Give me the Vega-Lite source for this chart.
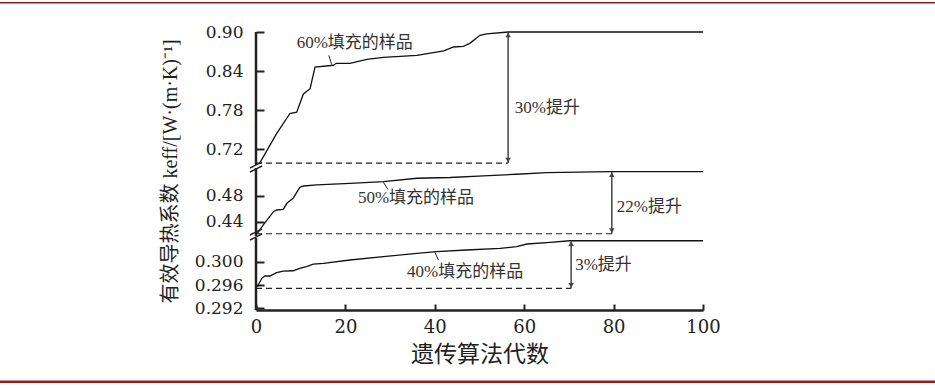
{
  "$schema": "https://vega.github.io/schema/vega-lite/v6.json",
  "width": 447,
  "height": 278,
  "autosize": {"type": "none"},
  "padding": {"left": 256, "top": 32, "right": 232, "bottom": 78},
  "background": "white",
  "config": {"view": {"stroke": null}, "font": "DejaVu Serif"},
  "datasets": {
    "curves": [
      {"s": "60", "x": 0.8, "y": 0.699}, {"s": "60", "x": 1.6, "y": 0.708}, {"s": "60", "x": 4.6, "y": 0.744}, {"s": "60", "x": 7.6, "y": 0.775}, {"s": "60", "x": 9.1, "y": 0.777}, {"s": "60", "x": 10.6, "y": 0.805}, {"s": "60", "x": 12.1, "y": 0.813}, {"s": "60", "x": 13.2, "y": 0.846}, {"s": "60", "x": 17.3, "y": 0.849}, {"s": "60", "x": 18.0, "y": 0.852}, {"s": "60", "x": 21.0, "y": 0.852}, {"s": "60", "x": 24.8, "y": 0.858}, {"s": "60", "x": 28.5, "y": 0.861}, {"s": "60", "x": 36, "y": 0.864}, {"s": "60", "x": 42, "y": 0.871}, {"s": "60", "x": 44.2, "y": 0.877}, {"s": "60", "x": 46.4, "y": 0.878}, {"s": "60", "x": 47.9, "y": 0.883}, {"s": "60", "x": 50.1, "y": 0.895}, {"s": "60", "x": 51.6, "y": 0.897}, {"s": "60", "x": 56.4, "y": 0.9}, {"s": "60", "x": 100, "y": 0.9},
      {"s": "50", "x": 0.3, "y": 0.4222}, {"s": "50", "x": 1.6, "y": 0.4349}, {"s": "50", "x": 3.9, "y": 0.4554}, {"s": "50", "x": 4.6, "y": 0.458}, {"s": "50", "x": 6.1, "y": 0.459}, {"s": "50", "x": 6.9, "y": 0.4683}, {"s": "50", "x": 8.3, "y": 0.476}, {"s": "50", "x": 9.8, "y": 0.4929}, {"s": "50", "x": 10.6, "y": 0.4949}, {"s": "50", "x": 13.6, "y": 0.4965}, {"s": "50", "x": 21, "y": 0.4991}, {"s": "50", "x": 28.5, "y": 0.5015}, {"s": "50", "x": 36, "y": 0.5068}, {"s": "50", "x": 43.4, "y": 0.508}, {"s": "50", "x": 50.9, "y": 0.5105}, {"s": "50", "x": 58.3, "y": 0.513}, {"s": "50", "x": 65, "y": 0.5155}, {"s": "50", "x": 79.2, "y": 0.5169}, {"s": "50", "x": 100, "y": 0.5169},
      {"s": "40", "x": 0.3, "y": 0.29571}, {"s": "40", "x": 1.3, "y": 0.29715}, {"s": "40", "x": 2, "y": 0.29755}, {"s": "40", "x": 3.1, "y": 0.29755}, {"s": "40", "x": 4.6, "y": 0.29811}, {"s": "40", "x": 6.1, "y": 0.2984}, {"s": "40", "x": 8.3, "y": 0.29845}, {"s": "40", "x": 9.8, "y": 0.29887}, {"s": "40", "x": 11.3, "y": 0.29914}, {"s": "40", "x": 12.8, "y": 0.2996}, {"s": "40", "x": 15.1, "y": 0.29973}, {"s": "40", "x": 21, "y": 0.30029}, {"s": "40", "x": 28.5, "y": 0.30086}, {"s": "40", "x": 36, "y": 0.30144}, {"s": "40", "x": 40.4, "y": 0.30172}, {"s": "40", "x": 47.1, "y": 0.30201}, {"s": "40", "x": 54.6, "y": 0.3023}, {"s": "40", "x": 58.3, "y": 0.30258}, {"s": "40", "x": 60.6, "y": 0.30304}, {"s": "40", "x": 65.8, "y": 0.30331}, {"s": "40", "x": 70.2, "y": 0.3036}, {"s": "40", "x": 100, "y": 0.3036}
    ],
    "dashed": [
      {"s": "60", "x": 0, "y": 0.699}, {"s": "60", "x": 56.4, "y": 0.699},
      {"s": "50", "x": 0, "y": 0.4215}, {"s": "50", "x": 79.6, "y": 0.4215},
      {"s": "40", "x": 0, "y": 0.29543}, {"s": "40", "x": 70.5, "y": 0.29543}
    ],
    "arrows": [
      {"x": 56.4, "y": 0.699, "y2": 0.9},
      {"x": 79.6, "y": 0.4215, "y2": 0.5169},
      {"x": 70.5, "y": 0.29543, "y2": 0.3036}
    ],
    "axisSeg": [
      {"x": 0, "y": 0.29171, "y2": 0.30407},
      {"x": 0, "y": 0.418, "y2": 0.5226},
      {"x": 0, "y": 0.696, "y2": 0.9}
    ],
    "slashes": [
      {"x": -1.34, "x2": 1.34, "y": 0.5226, "y2": 0.7005},
      {"x": -1.34, "x2": 1.34, "y": 0.5164, "y2": 0.6382},
      {"x": -1.34, "x2": 1.34, "y": 0.41954, "y2": 0.42877},
      {"x": -1.34, "x2": 1.34, "y": 0.30373, "y2": 0.42108}
    ],
    "leaders": [
      {"x": 16.3, "x2": 16.9, "y": 0.8642, "y2": 0.8505},
      {"x": 28.5, "x2": 29.5, "y": 0.5006, "y2": 0.4898},
      {"x": 40.0, "x2": 40.8, "y": 0.30165, "y2": 0.30029}
    ],
    "labels": [
      {"label": "60%填充的样品", "x": 9.1, "y": 0.8827},
      {"label": "50%填充的样品", "x": 22.8, "y": 0.4765},
      {"label": "40%填充的样品", "x": 33.8, "y": 0.29823},
      {"label": "30%提升", "x": 57.9, "y": 0.7834},
      {"label": "22%提升", "x": 80.7, "y": 0.4631},
      {"label": "3%提升", "x": 71.4, "y": 0.29943}
    ],
    "frameTop": [{"x": -57.3, "x2": 151.9, "y": 0.945}],
    "frameBottom": [{"x": -57.3, "x2": 151.9, "y": 0.2794}]
  },
  "encoding": {
    "x": {
      "field": "x", "type": "quantitative",
      "scale": {"domain": [0, 100], "nice": false, "zero": false},
      "axis": {
        "values": [0, 20, 40, 60, 80, 100], "format": "d", "grid": false,
        "tickSize": -6, "tickWidth": 2, "tickColor": "#222",
        "domainColor": "#222", "domainWidth": 2.5,
        "labelFont": "DejaVu Serif", "labelFontSize": 18, "labelColor": "#222",
        "labelPadding": 14, "labelFlush": false, "labelOverlap": false,
        "title": "遗传算法代数", "titleFont": "Noto Sans CJK SC", "titleFontSize": 23,
        "titleFontWeight": "normal", "titleColor": "#222", "titlePadding": 7
      }
    },
    "y": {
      "field": "y", "type": "quantitative",
      "scale": {
        "domain": [0.29171, 0.30407, 0.418, 0.5226, 0.696, 0.9],
        "range": [278, 206, 204, 136, 133, 0],
        "nice": false, "zero": false
      },
      "axis": {
        "values": [0.292, 0.296, 0.3, 0.44, 0.48, 0.72, 0.78, 0.84, 0.9],
        "labelExpr": "datum.value < 0.35 ? format(datum.value, '.3f') : format(datum.value, '.2f')",
        "grid": false, "domain": false,
        "tickSize": -8, "tickWidth": 2, "tickColor": "#222",
        "labelFont": "DejaVu Serif", "labelFontSize": 17, "labelColor": "#222",
        "labelPadding": 21, "labelFlush": false, "labelOverlap": false,
        "title": "有效导热系数 keff/[W·(m·K)⁻¹]",
        "titleFont": "Liberation Serif, Noto Sans CJK SC", "titleFontSize": 20,
        "titleFontWeight": "normal", "titleColor": "#222", "titlePadding": 14
      }
    }
  },
  "layer": [
    {
      "data": {"name": "frameTop"},
      "mark": {"type": "rule", "color": "#8b1c1c", "strokeWidth": 1.5, "clip": false},
      "encoding": {"x2": {"field": "x2"}}
    },
    {
      "data": {"name": "frameBottom"},
      "mark": {"type": "rule", "color": "#a01818", "strokeWidth": 2.5, "clip": false},
      "encoding": {"x2": {"field": "x2"}}
    },
    {
      "data": {"name": "dashed"},
      "mark": {"type": "line", "color": "#222", "strokeWidth": 1.2, "strokeDash": [6, 4]},
      "encoding": {"detail": {"field": "s"}}
    },
    {
      "data": {"name": "curves"},
      "mark": {"type": "line", "color": "#111", "strokeWidth": 1.3},
      "encoding": {"detail": {"field": "s"}}
    },
    {
      "data": {"name": "arrows"},
      "mark": {"type": "rule", "color": "#444", "strokeWidth": 1.5},
      "encoding": {"y2": {"field": "y2"}}
    },
    {
      "data": {"name": "arrows"},
      "mark": {"type": "point", "shape": "triangle-up", "filled": true, "color": "#444", "size": 30, "opacity": 1, "yOffset": 3},
      "encoding": {"y": {"field": "y2", "type": "quantitative"}}
    },
    {
      "data": {"name": "arrows"},
      "mark": {"type": "point", "shape": "triangle-down", "filled": true, "color": "#444", "size": 30, "opacity": 1, "yOffset": -3},
      "encoding": {}
    },
    {
      "data": {"name": "axisSeg"},
      "mark": {"type": "rule", "color": "#222", "strokeWidth": 2.5},
      "encoding": {"y2": {"field": "y2"}}
    },
    {
      "data": {"name": "slashes"},
      "mark": {"type": "rule", "color": "#222", "strokeWidth": 1.5, "clip": false},
      "encoding": {"x2": {"field": "x2"}, "y2": {"field": "y2"}}
    },
    {
      "data": {"name": "leaders"},
      "mark": {"type": "rule", "color": "#222", "strokeWidth": 1},
      "encoding": {"x2": {"field": "x2"}, "y2": {"field": "y2"}}
    },
    {
      "data": {"name": "labels"},
      "mark": {"type": "text", "align": "left", "baseline": "middle", "font": "Liberation Serif, Noto Sans CJK SC", "fontSize": 17, "color": "#333"},
      "encoding": {"text": {"field": "label"}}
    }
  ]
}
